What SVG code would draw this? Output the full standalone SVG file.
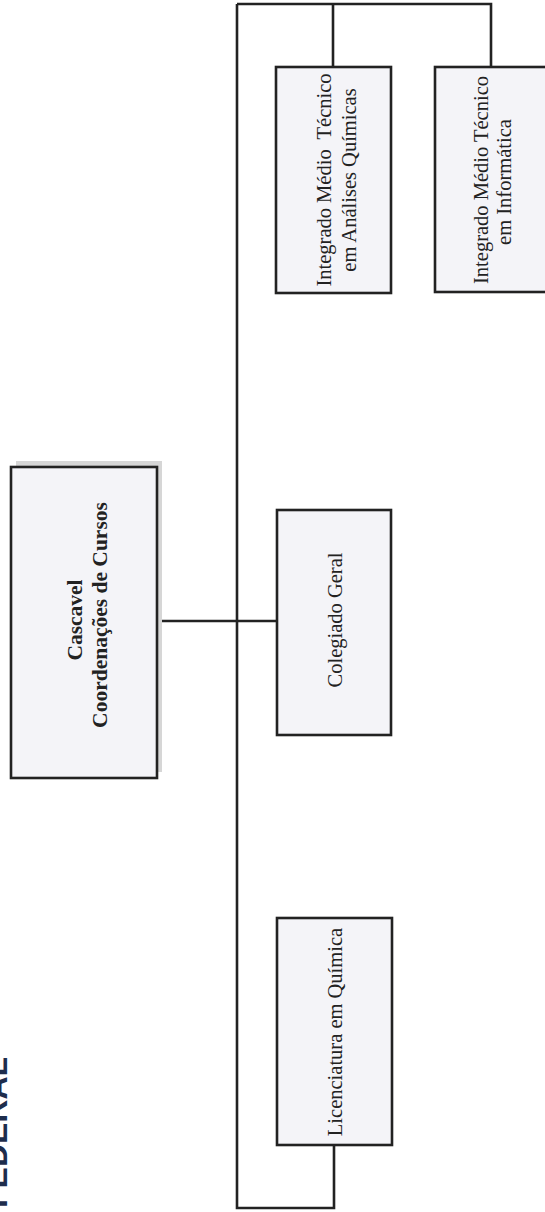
<svg xmlns="http://www.w3.org/2000/svg" width="545" height="1212" viewBox="0 0 545 1212">
<style>
.box{fill:#f4f4f8;stroke:#222;stroke-width:2.6}
.shadow{fill:#d6d6d6}
.lbl{font-family:"Liberation Serif","Times New Roman",serif;font-size:20.5px;fill:#222;text-anchor:middle}
.bold{font-weight:bold;font-size:21.5px}
.conn{fill:none;stroke:#222;stroke-width:2.6;stroke-linejoin:miter}
.hdr{font-family:"Liberation Sans",Arial,sans-serif;font-weight:bold;font-size:32px;fill:#1e2d4c}
</style>
<rect width="545" height="1212" fill="#ffffff"/>
<text class="hdr" x="7" y="1208" transform="rotate(-90 7 1208)">FEDERAL</text>
<g id="connectors">
<path class="conn" d="M157,621 H277"/>
<path class="conn" d="M237,4 V1208 H334 V1145"/>
<path class="conn" d="M237,4 H491 V67"/>
<path class="conn" d="M333,4 V67"/>
</g>
<g id="cascavel">
<rect class="shadow" x="16" y="461" width="146" height="311"/>
<rect class="box" x="11" y="467" width="146" height="311"/>
<text class="lbl bold" x="82" y="620" transform="rotate(-90 82 620)">Cascavel</text>
<text class="lbl bold" x="107" y="615" transform="rotate(-90 107 615)">Coordenações de Cursos</text>
</g>
<g id="colegiado">
<rect class="box" x="277" y="510" width="114" height="225"/>
<text class="lbl" x="342" y="620" transform="rotate(-90 342 620)">Colegiado Geral</text>
</g>
<g id="licenciatura">
<rect class="box" x="277" y="918" width="115" height="227"/>
<text class="lbl" x="342" y="1032" transform="rotate(-90 342 1032)">Licenciatura em Química</text>
</g>
<g id="integrado-quimica">
<rect class="box" x="276" y="67" width="115" height="226"/>
<text class="lbl" xml:space="preserve" x="331" y="180" transform="rotate(-90 331 180)">Integrado Médio  Técnico</text>
<text class="lbl" x="356" y="180" transform="rotate(-90 356 180)">em Análises Químicas</text>
</g>
<g id="integrado-informatica">
<rect class="box" x="435" y="67" width="114" height="225"/>
<text class="lbl" x="488" y="180" transform="rotate(-90 488 180)">Integrado Médio Técnico</text>
<text class="lbl" x="511" y="182" transform="rotate(-90 511 182)">em Informática</text>
</g>
</svg>
